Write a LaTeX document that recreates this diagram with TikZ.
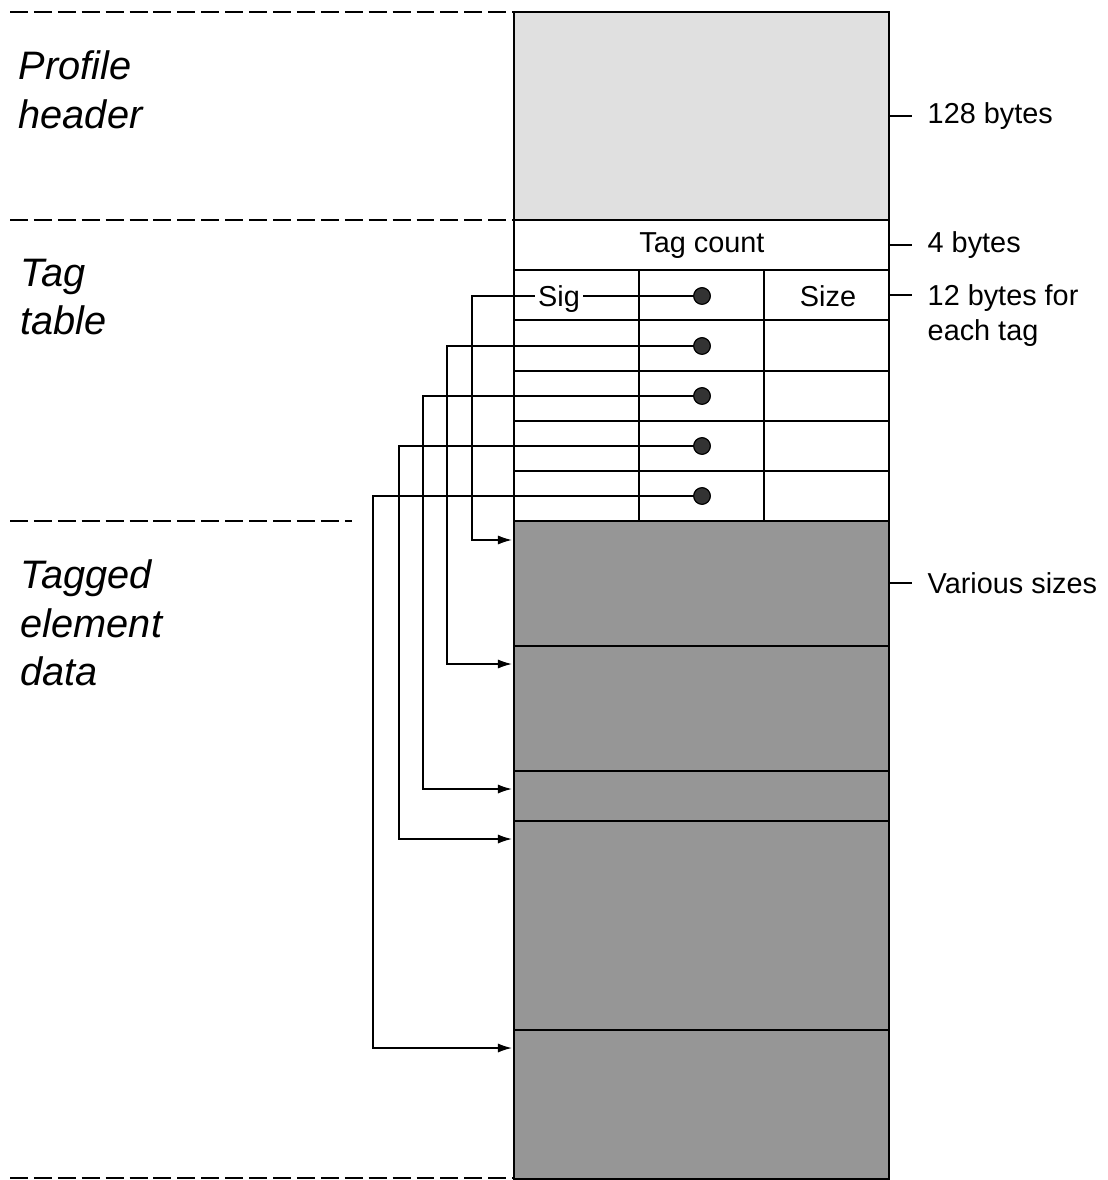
\documentclass[tikz,border=0pt]{standalone}
\usepackage{fontspec}
\setmainfont{Liberation Sans}
\usepackage{xcolor}
\usetikzlibrary{arrows.meta,calc}
\definecolor{hdrgray}{HTML}{E0E0E0}
\definecolor{datagray}{HTML}{969696}
\definecolor{dotgray}{HTML}{333333}

\tikzset{
    boxline/.style={line width=0.8pt},
    sepline/.style={line width=0.6pt, dash pattern=on 5.1pt off 1.7pt},
    link/.style={line width=0.45pt, -{Latex[length=4pt,width=2.6pt]}},
    tagdot/.style={circle, fill=dotgray, draw=black, line width=0.3pt, inner sep=0pt, minimum size=4.7pt},
    sizetext/.style={font=\fontsize{8.2}{10}\selectfont, anchor=west, inner sep=0pt},
    parttext/.style={font=\fontsize{11.3}{13.8}\selectfont\itshape, anchor=north west, align=left, inner sep=0pt}
}

\begin{document}
\begin{tikzpicture}[x=0.01cm, y=-0.01cm]
    \useasboundingbox (0,0) rectangle (1107,1180);
    % profile header
    \draw[boxline, fill=hdrgray] (514,12) rectangle (889,220);
    % tag table
    \draw[boxline] (514,220) rectangle (889,521);
    \foreach \y in {270,320,371,421,471}
        \draw[boxline] (514,\y) -- (889,\y);
    \draw[boxline] (639,270) -- (639,521) (764,270) -- (764,521);
    % tagged element data
    \foreach \a/\b in {521/646, 646/771, 771/821, 821/1030, 1030/1179}
        \draw[boxline, fill=datagray] (514,\a) rectangle (889,\b);
    % section separators
    \draw[sepline] 
    (10,12) -- (514,12)
    (10,220) -- (514,220)
    (10,521) -- (352,521)
    (10,1178) -- (514,1178);
    % section names
    \node[parttext] (hdrname) at (18,50) {Profile\\header};
    \node[parttext] (tblname) at (20,258) {Tag\\table};
    \node[parttext] (dataname) at (20,559) {Tagged\\element\\data};
    % sizes
    \draw[boxline] 
    (889,116) -- (912,116)
    (889,245) -- (912,245)
    (889,295) -- (912,295)
    (889,583) -- (912,583);
    \node[sizetext] (hdrsize) at (927,116) {128 bytes};
    \node[sizetext] (cntsize) at (927,245) {4 bytes};
    \node[sizetext, anchor=north west, align=left] (tagsize) at (927,284) {12 bytes for\\each tag};
    \node[sizetext] (datasize) at (927,583) {Various sizes};
    % table entries
    \node[font=\fontsize{8.2}{10}\selectfont] (tagcount) at (702,246) {Tag count};
    \node[font=\fontsize{8.2}{10}\selectfont] (sizecol) at (828,296) {Size};
    \foreach \i/\y in {1/296,2/346,3/396,4/446,5/496}
        \node[tagdot] (p\i) at (702,\y) {};
    \foreach \i/\y in {1/540,2/664,3/789,4/839,5/1048}
        \coordinate (t\i) at (512,\y);
    % offsets
    \foreach \i/\d in {1/230,2/255,3/279,4/303,5/329}
        \draw[link] (p\i.center) -- ++(-\d,0) |- (t\i);
    \foreach \i in {1,...,5}
        \node[tagdot] at (p\i) {};
    \node[font=\fontsize{8.2}{10}\selectfont, fill=white, inner sep=1pt] (sig) at (559,299) {Sig};
\end{tikzpicture}
\end{document}
